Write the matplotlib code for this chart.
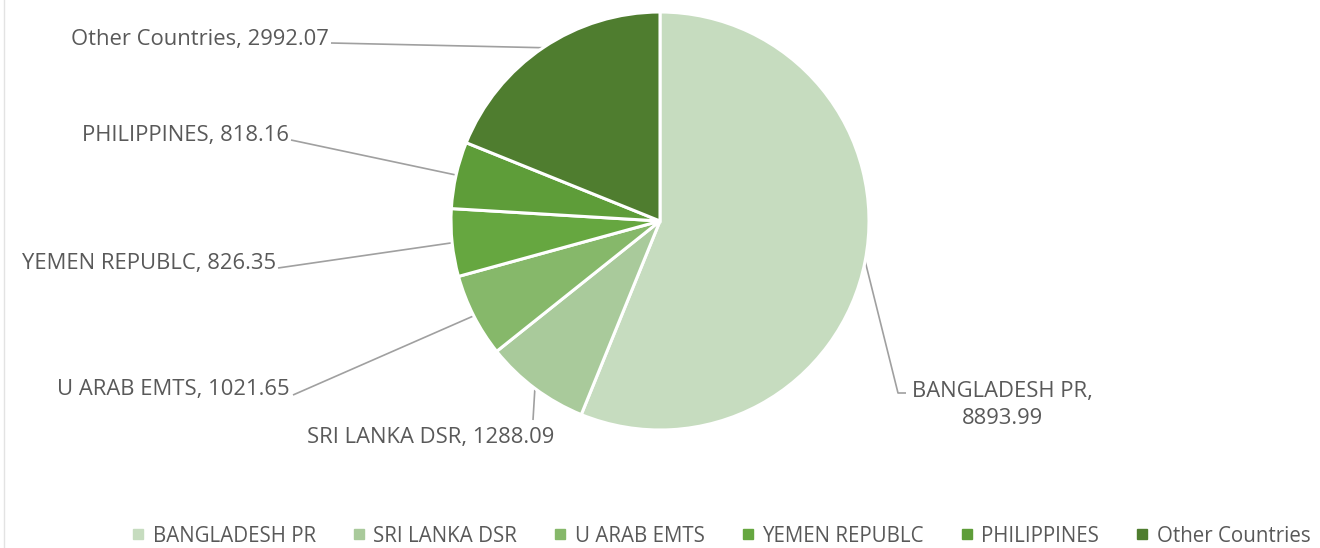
import matplotlib
matplotlib.use("Agg")
import matplotlib.pyplot as plt
import numpy as np
from matplotlib.lines import Line2D

categories = ["BANGLADESH PR", "SRI LANKA DSR", "U ARAB EMTS", "YEMEN REPUBLC", "PHILIPPINES", "Other Countries"]
values = [8893.99, 1288.09, 1021.65, 826.35, 818.16, 2992.07]
colors = ["#c6dcbf", "#a9ca9b", "#86b86a", "#66a740", "#5e9d39", "#4f7d2f"]

W, H = 1320, 548
fig = plt.figure(figsize=(W / 100, H / 100), dpi=100)
ax = fig.add_axes([0, 0, 1, 1])

plt.rcParams["font.family"] = ["Open Sans", "DejaVu Sans"]
txt_color = "#595959"
line_color = "#a0a0a0"
fs = 15.8
fs_leg = 14.8

cx, cy, r = 660, 221, 209
# y axis is inverted (pixel-like coords): data angle -90 is visual top,
# counterclockwise in data is clockwise on screen
wedges, _ = ax.pie(values, colors=colors, startangle=-90, counterclock=True,
                   center=(cx, cy), radius=r, frame=True,
                   wedgeprops=dict(edgecolor="white", linewidth=2.2))
ax.set_xlim(0, W)
ax.set_ylim(H, 0)
ax.set_aspect("equal")
ax.axis("off")

label_pos = {
    "BANGLADESH PR": dict(elbow=(898, 393), end=(906, 393), xy=(1002, 405), ha="center", two=True),
    "SRI LANKA DSR": dict(elbow=None, end=(533, 420), xy=(431, 437), ha="center", two=False),
    "U ARAB EMTS": dict(elbow=None, end=(293, 395), xy=(290, 390), ha="right", two=False),
    "YEMEN REPUBLC": dict(elbow=None, end=(278, 268), xy=(276, 264), ha="right", two=False),
    "PHILIPPINES": dict(elbow=None, end=(291, 140), xy=(289, 136), ha="right", two=False),
    "Other Countries": dict(elbow=None, end=(331, 43), xy=(329, 39), ha="right", two=False),
}

for w, cat, val in zip(wedges, categories, values):
    mid = np.deg2rad((w.theta1 + w.theta2) / 2)
    ex = cx + r * np.cos(mid)
    ey = cy + r * np.sin(mid)
    p = label_pos[cat]
    xs = [ex]
    ys = [ey]
    if p["elbow"] is not None:
        xs.append(p["elbow"][0]); ys.append(p["elbow"][1])
    xs.append(p["end"][0]); ys.append(p["end"][1])
    ax.plot(xs, ys, color=line_color, lw=1.2, solid_capstyle="butt", zorder=0)
    text = f"{cat},\n{val:.2f}" if p["two"] else f"{cat}, {val:.2f}"
    ax.text(p["xy"][0], p["xy"][1], text, ha=p["ha"], va="center", fontsize=fs,
            color=txt_color, linespacing=1.35)

handles = [Line2D([0], [0], marker="s", linestyle="none", markersize=7,
                  markerfacecolor=c, markeredgecolor=c) for c in colors]
fig.legend(handles, categories, loc="center", bbox_to_anchor=(719 / W, 1 - 536 / H),
           ncol=6, frameon=False, fontsize=fs_leg, labelcolor=txt_color,
           handletextpad=0.2, columnspacing=1.6, handlelength=1.0,
           borderpad=0.1)

fig.add_artist(Line2D([4 / W, 4 / W], [0, 1], color="#e3e3e3", lw=1.0))

fig.savefig("out.png", dpi=100, facecolor="white")
